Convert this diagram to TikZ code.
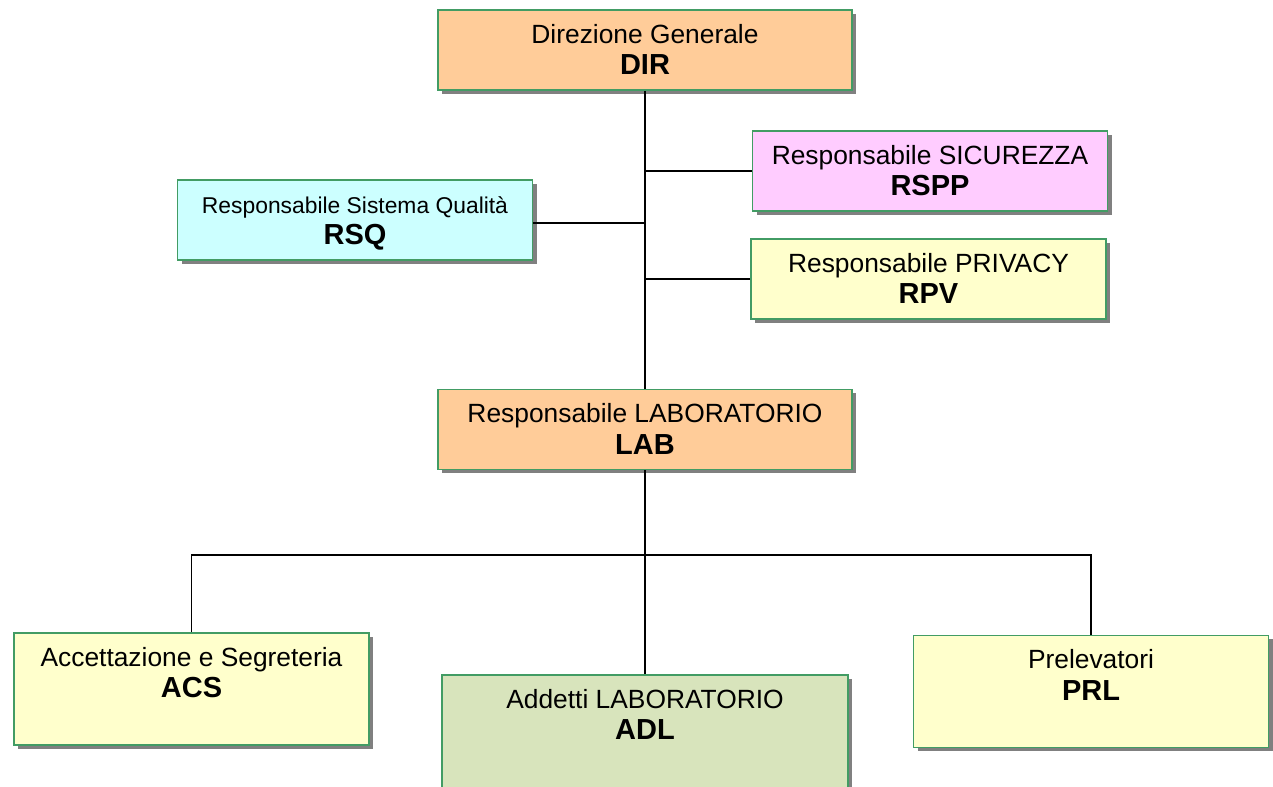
\documentclass[tikz,border=0pt]{standalone}
\usepackage{fontspec}
\setmainfont{Liberation Sans}
\usetikzlibrary{shadows}

\definecolor{boxgreen}{RGB}{66,156,100}
\definecolor{peach}{RGB}{255,204,153}
\definecolor{orchid}{RGB}{255,204,255}
\definecolor{aqua}{RGB}{204,255,255}
\definecolor{lemon}{RGB}{255,255,204}
\definecolor{sage}{RGB}{216,228,188}

\newcommand{\codename}[1]{{\fontsize{16.5}{18}\selectfont\bfseries #1}}

\begin{document}
\begin{tikzpicture}[
  unit/.style={draw=boxgreen, line width=1.1pt, align=center, inner sep=0pt,
    minimum width=7.1cm, text height=1.3cm, text depth=0.3cm,
    font=\fontsize{15}{18}\selectfont,
    drop shadow={shadow xshift=0.08cm, shadow yshift=-0.08cm, fill=black!50, opacity=1}},
  wide/.style={minimum width=8.28cm},
  tall/.style={text depth=0.94cm},
  link/.style={line width=1.1pt}]
\useasboundingbox (0,0) rectangle (25.46,15.74);

\node[unit, wide, fill=peach] (dir) at (12.9,14.74) {Direzione Generale\\\codename{DIR}};
\node[unit, fill=orchid] (rspp) at (18.6,12.32) {Responsabile SICUREZZA\\\codename{RSPP}};
\node[unit, fill=aqua] (rsq) at (7.1,11.34) {{\fontsize{13}{18}\selectfont Responsabile Sistema Qualità}\\\codename{RSQ}};
\node[unit, fill=lemon] (rpv) at (18.57,10.16) {Responsabile PRIVACY\\\codename{RPV}};
\node[unit, wide, fill=peach] (lab) at (12.9,7.15) {Responsabile LABORATORIO\\\codename{LAB}};
\node[unit, tall, fill=lemon] (acs) at (3.83,1.96) {Accettazione e Segreteria\\\codename{ACS}};
\node[unit, tall, fill=sage, minimum width=8.12cm, text depth=1.1cm] (adl) at (12.9,1.04) {Addetti LABORATORIO\\\codename{ADL}};
\node[unit, tall, fill=lemon] (prl) at (21.82,1.91) {Prelevatori\\\codename{PRL}};

\coordinate (fork) at (12.9,4.64);

\draw[link] (dir) -- (lab);
\draw[link] (rspp.west) -- (rspp.west -| dir.south);
\draw[link] ([yshift=-0.06cm]rsq.east) -- ([yshift=-0.06cm]rsq.east -| dir.south);
\draw[link] (rpv.west) -- (rpv.west -| dir.south);
\draw[link] (lab) -- (adl);
\draw[link] (acs.north) |- (fork) -| (prl.north);
\end{tikzpicture}
\end{document}
